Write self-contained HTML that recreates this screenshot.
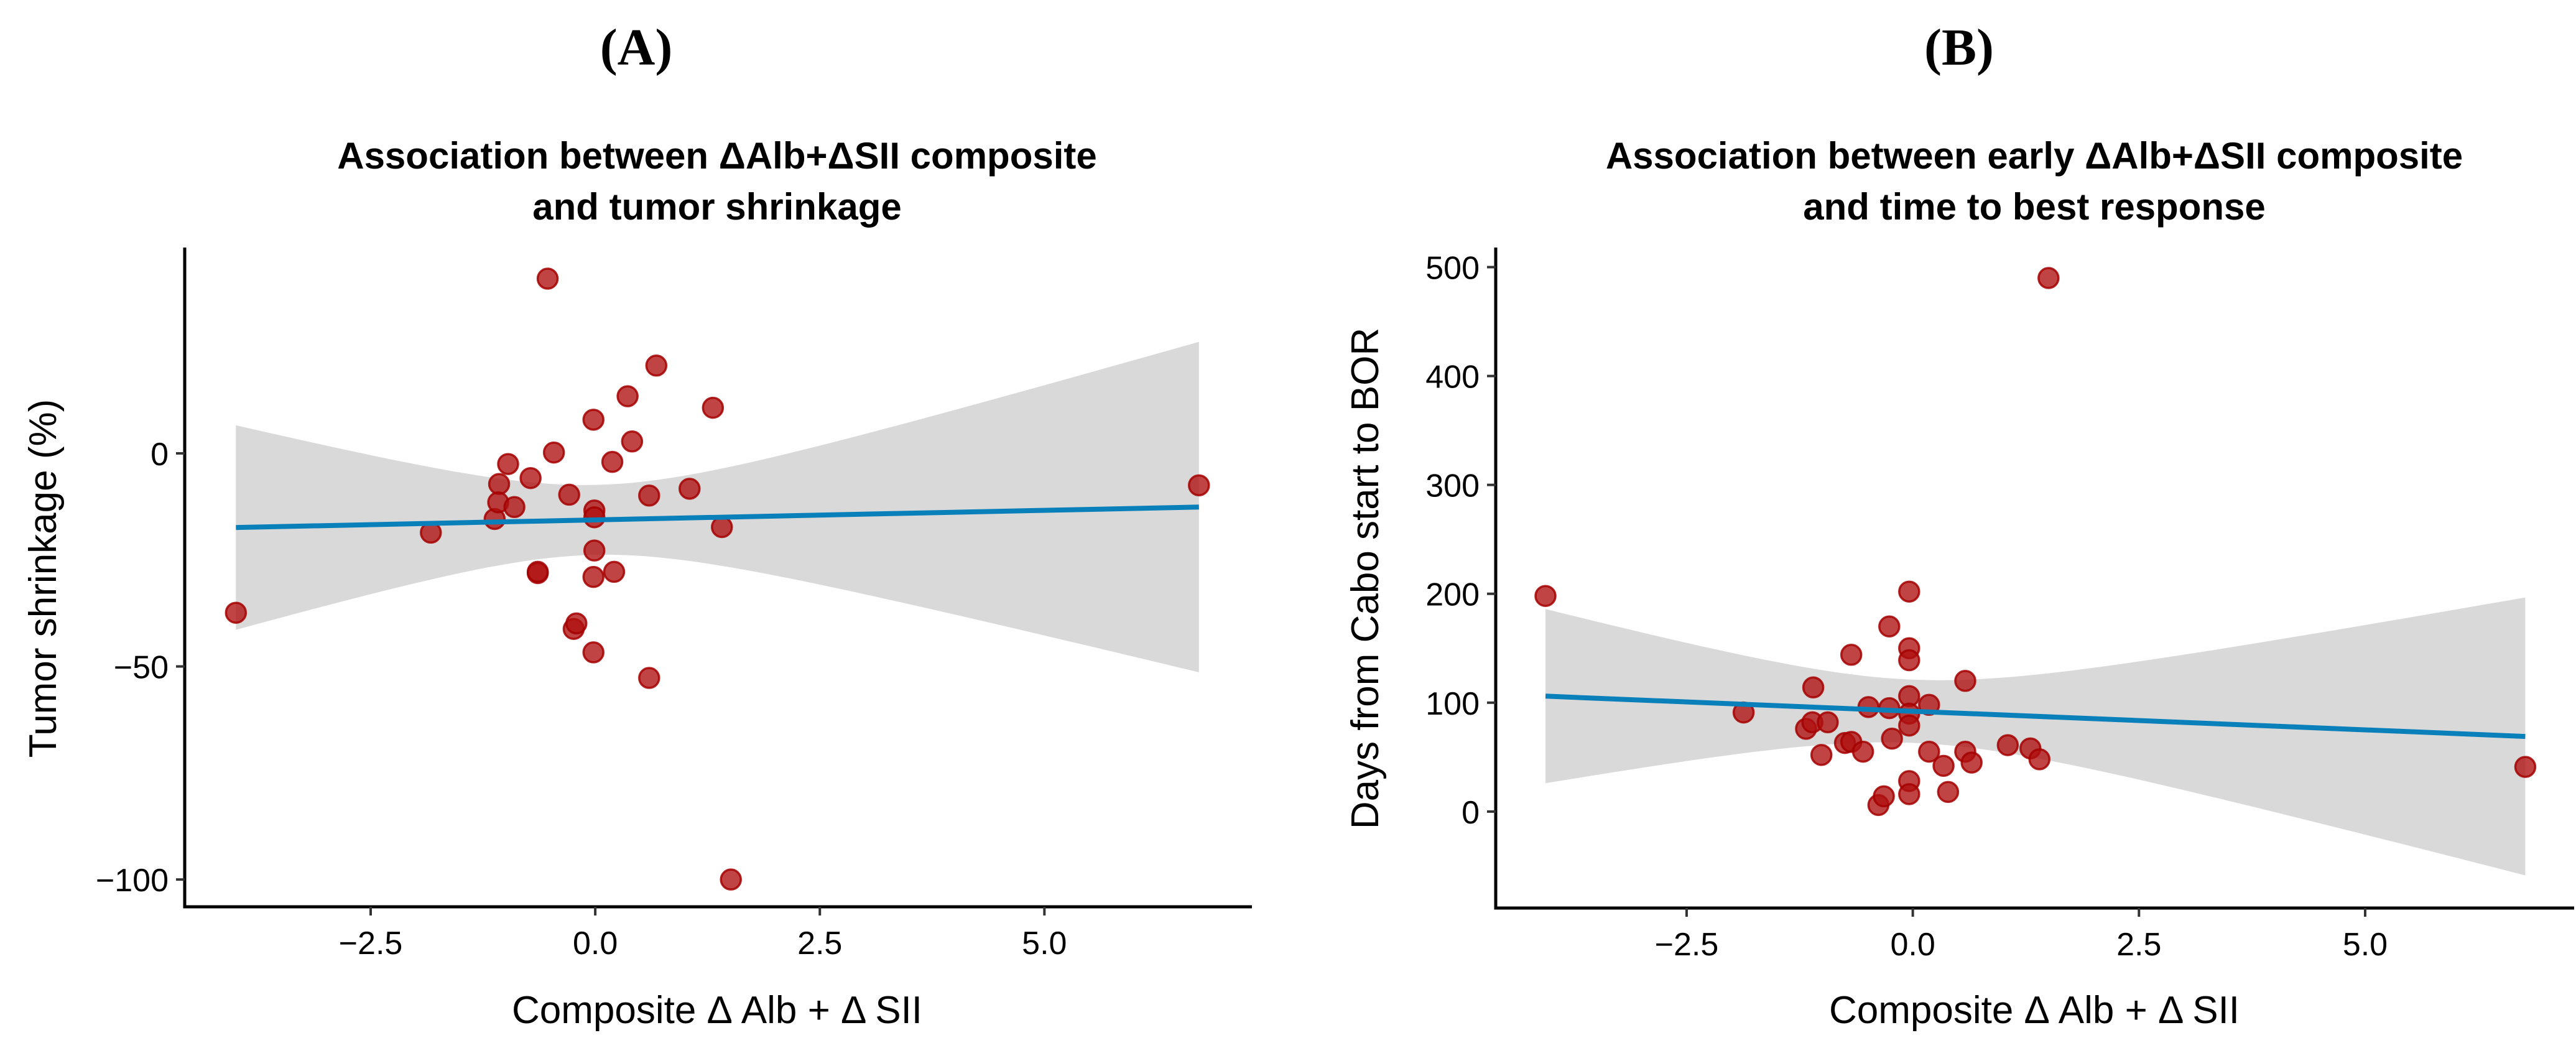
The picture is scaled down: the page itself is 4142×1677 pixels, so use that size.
<!DOCTYPE html>
<html><head><meta charset="utf-8">
<style>
html,body{margin:0;padding:0;background:#fff;}
svg{display:block;}
text{font-family:"Liberation Sans",sans-serif;}
</style></head>
<body>
<svg id="fig" width="4142" height="1677" viewBox="0 0 4142 1677" xmlns="http://www.w3.org/2000/svg"></svg>
<script>
// Panel A data
const aX = [-4.0,-1.83,-1.12,-1.07,-1.08,-0.97,-0.90,-0.72,-0.64,-0.64,-0.53,-0.46,-0.29,-0.24,-0.21,-0.02,-0.01,-0.01,-0.01,-0.02,-0.02,0.19,0.21,0.36,0.41,0.60,0.60,0.68,1.05,1.31,1.41,1.51,6.72];
const aY = [-37.4,-18.6,-15.4,-7.2,-11.5,-2.5,-12.6,-5.8,-28.1,-27.8,41,0.2,-9.7,-41.2,-39.9,7.9,-13.4,-15,-22.8,-29,-46.7,-2.0,-27.8,13.4,2.8,-9.9,-52.7,20.6,-8.3,10.7,-17.3,-100,-7.5];
const aFitX = [-4.0, 6.72];
const aFitY = [-17.4, -12.6];
const aBand = [8.2, 31.8]; // half-width at center, curvature
const aXTicks = [-2.5, 0.0, 2.5, 5.0];
const aXTickLabels = ["\u22122.5","0.0","2.5","5.0"];
const aYTicks = [0, -50, -100];
const aYTickLabels = ["0","\u221250","\u2212100"];
// Panel B data
const bX = [-4.06,-1.87,-1.18,-1.11,-1.10,-0.94,-1.01,-0.75,-0.68,-0.68,-0.55,-0.49,-0.38,-0.32,-0.26,-0.26,-0.23,-0.04,-0.04,-0.04,-0.04,-0.04,-0.04,-0.04,-0.04,0.18,0.18,0.34,0.39,0.58,0.58,0.65,1.05,1.30,1.40,1.50,6.77];
const bY = [198,91,76,82,114,82,52,63,64,144,55,96,6,14,95,170,67,202,150,139,106,90,79,28,16,98,55,42,18,120,55,45,61,58,48,490,41];
const bFitX = [-4.06, 6.77];
const bFitY = [106, 69];
const bBand = [29, 337];
const bXTicks = [-2.5, 0.0, 2.5, 5.0];
const bXTickLabels = ["\u22122.5","0.0","2.5","5.0"];
const bYTicks = [0,100,200,300,400,500];
const bYTickLabels = ["0","100","200","300","400","500"];

const NS="http://www.w3.org/2000/svg";
const svg=document.getElementById('fig');
function mk(tag,attrs,parent){const e=document.createElementNS(NS,tag);for(const k in attrs)e.setAttribute(k,attrs[k]);(parent||svg).appendChild(e);return e;}

function panel(cfg){
  const g=mk('g',{});
  
  
  const sx=v=>cfg.x0+(v-cfg.xmin)/(cfg.xmax-cfg.xmin)*(cfg.x1-cfg.x0);
  const sy=v=>cfg.y1-(v-cfg.ymin)/(cfg.ymax-cfg.ymin)*(cfg.y1-cfg.y0);
  const fx0=cfg.fitX[0], fx1=cfg.fitX[1];
  const slope=(cfg.fitY[1]-cfg.fitY[0])/(fx1-fx0);
  const fit=x=>cfg.fitY[0]+slope*(x-fx0);
  const hw=x=>Math.sqrt(cfg.band[0]*cfg.band[0]+cfg.band[1]*x*x);
  let up=[],lo=[];
  const N=80;
  for(let i=0;i<=N;i++){const x=fx0+(fx1-fx0)*i/N;up.push(sx(x).toFixed(1)+','+sy(fit(x)+hw(x)).toFixed(1));lo.push(sx(x).toFixed(1)+','+sy(fit(x)-hw(x)).toFixed(1));}
  const band=mk('polygon',{points:up.concat(lo.reverse()).join(' '),fill:'#d9d9d9'},g);
  
  
  for(let i=0;i<cfg.px.length;i++){
    const c=mk('circle',{cx:sx(cfg.px[i]),cy:sy(cfg.py[i]),r:16,fill:'rgba(175,15,15,0.78)',stroke:'rgba(165,0,0,0.85)','stroke-width':3.5},g);
    
    
  }
  const ln=mk('line',{x1:sx(fx0),y1:sy(cfg.fitY[0]),x2:sx(fx1),y2:sy(cfg.fitY[1]),stroke:'#0a80bb','stroke-width':8},g);
  
  
  const ya=mk('line',{x1:cfg.x0,y1:cfg.y0,x2:cfg.x0,y2:cfg.y1+2.5,stroke:'#000','stroke-width':5},g);
  
  
  const xa=mk('line',{x1:cfg.x0-2.5,y1:cfg.y1,x2:cfg.x1,y2:cfg.y1,stroke:'#000','stroke-width':5},g);
  
  
  cfg.xt.forEach((v,i)=>{
    const x=sx(v);
    mk('line',{x1:x,y1:cfg.y1,x2:x,y2:cfg.y1+14,stroke:'#333','stroke-width':4},g);
    const t=mk('text',{x:x,y:cfg.y1+76,'text-anchor':'middle','font-size':52,fill:'#000'},g);
    t.textContent=cfg.xtl[i];
    
    
  });
  cfg.yt.forEach((v,i)=>{
    const y=sy(v);
    mk('line',{x1:cfg.x0-14,y1:y,x2:cfg.x0,y2:y,stroke:'#333','stroke-width':4},g);
    const t=mk('text',{x:cfg.x0-26,y:y+19,'text-anchor':'end','font-size':52,fill:'#000'},g);
    t.textContent=cfg.ytl[i];
    
    
  });
  const pl=mk('text',{x:cfg.pcx,y:104,'text-anchor':'middle','font-size':84,'font-weight':'bold',style:'font-family:"Liberation Serif",serif'},g);
  pl.textContent=cfg.plabel;
  
  
  cfg.title.forEach((s,i)=>{
    const t=mk('text',{x:cfg.tcx,y:271+i*82,'text-anchor':'middle','font-size':60,'font-weight':'bold'},g);
    t.textContent=s;
    
    
  });
  const xt=mk('text',{x:cfg.tcx,y:1645,'text-anchor':'middle','font-size':62},g);
  xt.textContent='Composite \u0394 Alb + \u0394 SII';
  
  
  const yt=mk('text',{x:cfg.ytx,y:930,'text-anchor':'middle','font-size':62,transform:'rotate(-90 '+cfg.ytx+' 930)'},g);
  yt.textContent=cfg.ytitle;
  
  
}

panel({name:'panel-a',x0:297,x1:2013,y0:398,y1:1458,xmin:-4.57,xmax:7.31,ymin:-106.4,ymax:48.3,
  px:aX,py:aY,fitX:aFitX,fitY:aFitY,band:aBand,xt:aXTicks,xtl:aXTickLabels,yt:aYTicks,ytl:aYTickLabels,
  pcx:1023,tcx:1153,ytx:90,plabel:'(A)',title:['Association between \u0394Alb+\u0394SII composite','and tumor shrinkage'],ytitle:'Tumor shrinkage (%)'});
panel({name:'panel-b',x0:2405,x1:4139,y0:398,y1:1460,xmin:-4.61,xmax:7.31,ymin:-88.6,ymax:518,
  px:bX,py:bY,fitX:bFitX,fitY:bFitY,band:bBand,xt:bXTicks,xtl:bXTickLabels,yt:bYTicks,ytl:bYTickLabels,
  pcx:3150,tcx:3271,ytx:2216,plabel:'(B)',title:['Association between early \u0394Alb+\u0394SII composite','and time to best response'],ytitle:'Days from Cabo start to BOR'});
</script>
</body></html>
